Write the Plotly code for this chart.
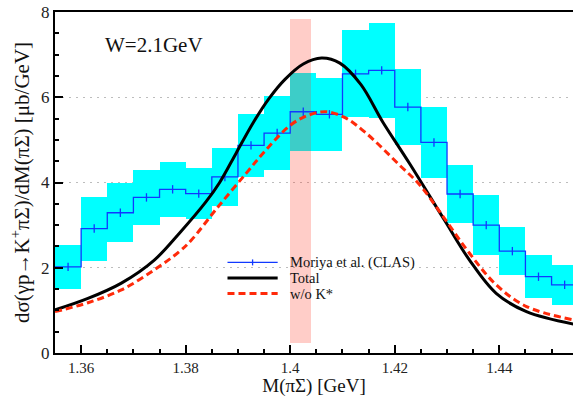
import plotly.graph_objects as go

# ---------------- data ----------------
# CLAS (Moriya et al.) histogram: bin centres, values, errors
bin_centers = [1.3575, 1.3625, 1.3675, 1.3725, 1.3775, 1.3825, 1.3875, 1.3925, 1.3975, 1.4025,
               1.4075, 1.4125, 1.4175, 1.4225, 1.4275, 1.4325, 1.4375, 1.4425, 1.4475, 1.4525]
bin_width = 0.005
clas_val = [2.02, 2.92, 3.29, 3.65, 3.84, 3.74, 4.13, 4.87, 5.16, 5.66,
            5.60, 6.55, 6.63, 5.77, 4.94, 3.73, 3.00, 2.39, 1.79, 1.60]
clas_err = [0.51, 0.75, 0.69, 0.65, 0.64, 0.60, 0.68, 0.73, 0.86, 0.92,
            0.86, 1.02, 1.12, 0.90, 0.83, 0.67, 0.70, 0.56, 0.51, 0.47]

# Model curves
total_x = [1.355, 1.3613, 1.3677, 1.3740, 1.3788, 1.3839, 1.3865, 1.3897, 1.3930, 1.3960,
           1.3990, 1.4025, 1.4060, 1.4095, 1.4135, 1.4177, 1.4228, 1.4295, 1.4343, 1.4394,
           1.4452, 1.4545]
total_y = [1.01, 1.28, 1.64, 2.18, 2.81, 3.55, 4.00, 4.70, 5.42, 5.98,
           6.42, 6.78, 6.92, 6.80, 6.30, 5.42, 4.45, 3.12, 2.18, 1.40,
           0.97, 0.67]

nok_x = [1.355, 1.3613, 1.3677, 1.3740, 1.3788, 1.3811, 1.3860, 1.3916, 1.3954, 1.4001,
         1.4035, 1.4069, 1.4105, 1.4145, 1.4209, 1.4248, 1.4295, 1.4343, 1.4394, 1.4452,
         1.4545]
nok_y = [0.97, 1.18, 1.48, 1.95, 2.38, 2.65, 3.40, 4.22, 4.77, 5.35,
         5.58, 5.66, 5.52, 5.16, 4.41, 3.94, 3.16, 2.34, 1.60, 1.09,
         0.77]

# highlighted mass window
band_x = [1.400, 1.404]
band_y = [0.23, 7.84]

x_tick_vals = [1.36, 1.38, 1.40, 1.42, 1.44]
x_tick_text = ["1.36", "1.38", "1.4", "1.42", "1.44"]
y_tick_vals = [0, 2, 4, 6, 8]
y_tick_text = ["0", "2", "4", "6", "8"]

legend_names = ["Moriya et al. (CLAS)", "Total", "w/o K*"]

FONT = "Liberation Serif"
BLUE = "#1038ff"
RED = "#ff2a0a"

# ---------------- figure ----------------
fig = go.Figure()

# error boxes
fig.add_trace(go.Bar(
    x=bin_centers,
    y=[2 * e for e in clas_err],
    base=[v - e for v, e in zip(clas_val, clas_err)],
    width=bin_width,
    marker=dict(color="#00ffff", line=dict(width=0)),
    showlegend=False, hoverinfo="skip"))

# highlighted band
fig.add_trace(go.Bar(
    x=[(band_x[0] + band_x[1]) / 2],
    y=[band_y[1] - band_y[0]],
    base=[band_y[0]],
    width=band_x[1] - band_x[0],
    marker=dict(color="rgba(255,47,26,0.24)", line=dict(width=0)),
    showlegend=False, hoverinfo="skip"))

# step line
edges = [c - bin_width / 2 for c in bin_centers] + [bin_centers[-1] + bin_width / 2]
fig.add_trace(go.Scatter(
    x=edges, y=clas_val + [clas_val[-1]], mode="lines", line_shape="hv",
    line=dict(color=BLUE, width=1.3), showlegend=False))
fig.add_trace(go.Scatter(
    x=bin_centers, y=clas_val, mode="markers",
    marker=dict(symbol="line-ns", size=6, line=dict(color=BLUE, width=1.3)),
    showlegend=False))

# curves
fig.add_trace(go.Scatter(
    x=total_x, y=total_y, mode="lines", line_shape="spline",
    line=dict(color="black", width=3), showlegend=False))
fig.add_trace(go.Scatter(
    x=nok_x, y=nok_y, mode="lines", line_shape="spline",
    line=dict(color=RED, width=3, dash="7px,4px"), showlegend=False))

# manual legend
leg_x0, leg_x1, leg_tx = 1.3880, 1.3976, 1.3995
leg_y = [2.125, 1.76, 1.395]
fig.add_shape(type="line", x0=leg_x0, x1=leg_x1, y0=leg_y[0], y1=leg_y[0],
              line=dict(color=BLUE, width=1.3))
fig.add_shape(type="line", x0=(leg_x0 + leg_x1) / 2, x1=(leg_x0 + leg_x1) / 2,
              y0=leg_y[0] - 0.07, y1=leg_y[0] + 0.07, line=dict(color=BLUE, width=1.3))
fig.add_shape(type="line", x0=leg_x0, x1=leg_x1, y0=leg_y[1], y1=leg_y[1],
              line=dict(color="black", width=3))
fig.add_shape(type="line", x0=leg_x0, x1=leg_x1, y0=leg_y[2], y1=leg_y[2],
              line=dict(color=RED, width=3, dash="7px,4px"))
for name, yy in zip(legend_names, leg_y):
    fig.add_annotation(x=leg_tx, y=yy, text=name, showarrow=False, xanchor="left",
                       yanchor="middle", font=dict(family=FONT, size=14.5, color="#111"))

fig.add_annotation(x=1.3642, y=7.22, text="W=2.1GeV", showarrow=False, xanchor="left",
                   yanchor="middle", font=dict(family=FONT, size=21, color="#111"))

fig.update_layout(
    width=573, height=397,
    margin=dict(l=55, r=0, t=12, b=44),
    paper_bgcolor="white", plot_bgcolor="white",
    barmode="overlay", bargap=0,
    font=dict(family=FONT, color="#111"),
    showlegend=False,
)
fig.update_xaxes(
    range=[1.355, 1.4541],
    showline=True, linewidth=2, linecolor="black", mirror=True,
    ticks="inside", ticklen=8, tickwidth=2, tickcolor="black",
    tickmode="array", tickvals=x_tick_vals, ticktext=x_tick_text,
    tickfont=dict(family=FONT, size=15, color="#222"),
    minor=dict(dtick=0.005, tick0=1.355, ticks="inside", ticklen=4, tickwidth=1.5,
               tickcolor="black", showgrid=False),
    showgrid=False, zeroline=False,
    title=dict(text="M(πΣ) [GeV]", font=dict(family=FONT, size=19, color="#111"), standoff=8),
)
fig.update_yaxes(
    range=[0, 8],
    showline=True, linewidth=2, linecolor="black", mirror=False,
    ticks="inside", ticklen=8, tickwidth=2, tickcolor="black",
    tickmode="array", tickvals=y_tick_vals, ticktext=y_tick_text,
    tickfont=dict(family=FONT, size=17, color="#222"),
    minor=dict(dtick=0.5, tick0=0, ticks="inside", ticklen=4, tickwidth=1.5,
               tickcolor="black", showgrid=False),
    showgrid=True, gridcolor="#bdbdbd", gridwidth=1, griddash="2px,5px",
    zeroline=False,
    title=dict(text="dσ(γp→K<sup>+</sup>πΣ)/dM(πΣ) [μb/GeV]",
               font=dict(family=FONT, size=21, color="#111"), standoff=6),
)

fig.write_html("out.html")
